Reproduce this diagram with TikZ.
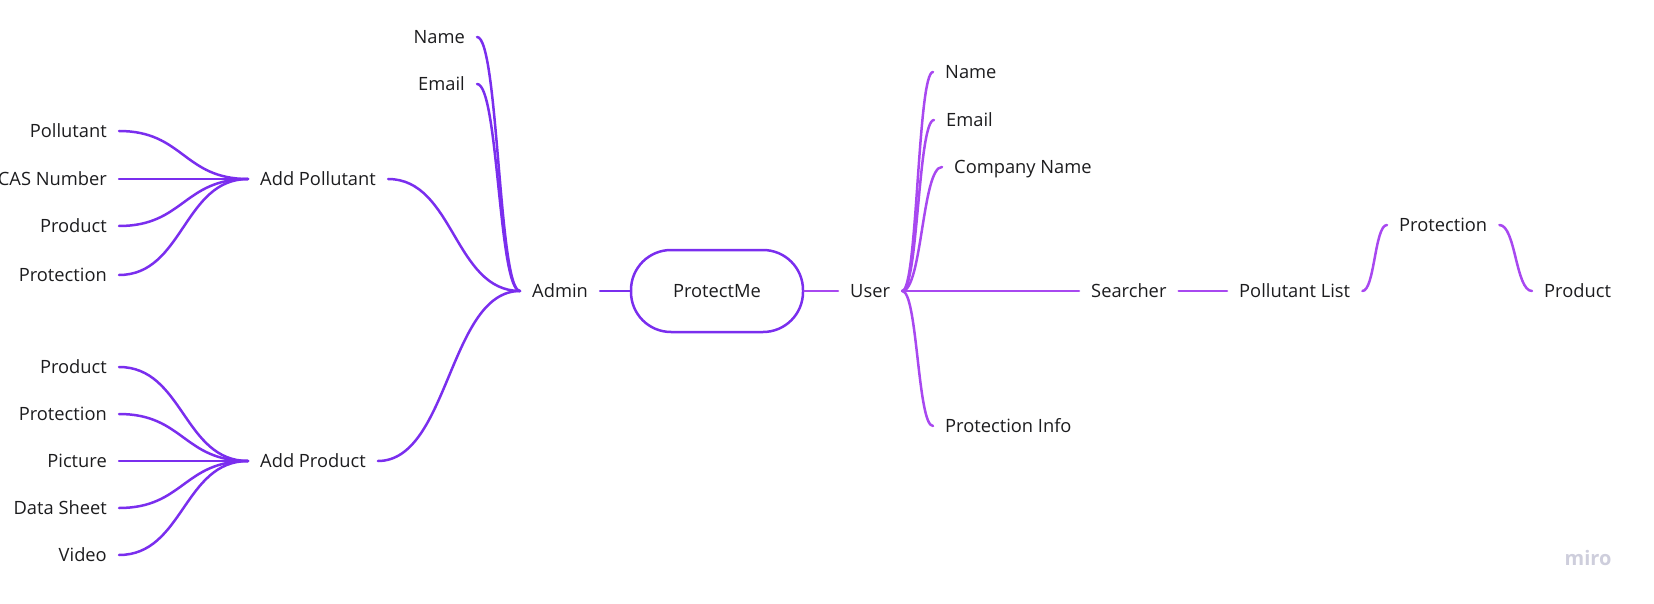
\documentclass[tikz,border=0pt]{standalone}
\usepackage{fontspec}
\setmainfont{Open Sans}
\usetikzlibrary{calc}
\definecolor{adminviolet}{RGB}{122,46,238}
\definecolor{userviolet}{RGB}{168,72,240}
\definecolor{inkgray}{RGB}{28,28,30}
\definecolor{mirogray}{RGB}{206,206,220}
\tikzset{
  topic/.style={inner xsep=12pt, inner ysep=0pt, text height=13pt, text depth=0pt,
    font=\fontsize{18.3}{21}\selectfont, text=inkgray},
  branch/.style={line width=2.5pt, line cap=round,
    to path={let \p1=(\tikztostart), \p2=(\tikztotarget), \n1={0.5*(\x1+\x2)} in
      .. controls (\n1,\y1) and (\n1,\y2) .. (\tikztotarget)}},
}
\begin{document}
\begin{tikzpicture}[x=1pt,y=-1pt]
  \useasboundingbox (0,0) rectangle (1654,604);
  % Root
  \node[topic, draw=adminviolet, line width=2.5pt, rounded corners=40pt,
    minimum width=172pt, minimum height=82pt] (root) at (717,291) {ProtectMe};
  \node[topic, anchor=west] (admin) at (520,291) {Admin};
  \node[topic, anchor=west] (user) at (838,291) {User};
  \draw[branch, adminviolet] (admin.east) -- (root.west);
  \draw[branch, userviolet] (root.east) -- (user.west);

  % Admin branch
  \node[topic, anchor=east] (adname) at (477,37) {Name};
  \node[topic, anchor=east] (ademail) at (477,84) {Email};
  \node[topic, anchor=west] (addpoll) at (248,179) {Add Pollutant};
  \node[topic, anchor=west] (addprod) at (248,461) {Add Product};
  \foreach \t in {adname,ademail,addpoll,addprod}
    \draw[branch, adminviolet] (\t.east) to (admin.west);

  % Add Pollutant leaves
  \node[topic, anchor=east] (pollutant) at (119,131) {Pollutant};
  \node[topic, anchor=east] (casnum) at (119,179) {CAS Number};
  \node[topic, anchor=east] (pproduct) at (119,226) {Product};
  \node[topic, anchor=east] (pprotect) at (119,275) {Protection};
  \foreach \t in {pollutant,casnum,pproduct,pprotect}
    \draw[branch, adminviolet] (\t.east) to (addpoll.west);

  % Add Product leaves
  \node[topic, anchor=east] (product) at (119,367) {Product};
  \node[topic, anchor=east] (protect) at (119,414) {Protection};
  \node[topic, anchor=east] (picture) at (119,461) {Picture};
  \node[topic, anchor=east] (datasheet) at (119,508) {Data Sheet};
  \node[topic, anchor=east] (video) at (119,555) {Video};
  \foreach \t in {product,protect,picture,datasheet,video}
    \draw[branch, adminviolet] (\t.east) to (addprod.west);

  % User branch
  \node[topic, anchor=west] (uname) at (933,72) {Name};
  \node[topic, anchor=west] (uemail) at (934,120) {Email};
  \node[topic, anchor=west] (ucompany) at (942,167) {Company Name};
  \node[topic, anchor=west] (uinfo) at (933,426) {Protection Info};
  \node[topic, anchor=west] (searcher) at (1079,291) {Searcher};
  \foreach \t in {uname,uemail,ucompany,uinfo,searcher}
    \draw[branch, userviolet] (user.east) to (\t.west);

  % Searcher chain
  \node[topic, anchor=west] (plist) at (1227,291) {Pollutant List};
  \node[topic, anchor=west] (sprotect) at (1387,225) {Protection};
  \node[topic, anchor=west] (sproduct) at (1532,291) {Product};
  \draw[branch, userviolet] (searcher.east) to (plist.west);
  \draw[branch, userviolet] (plist.east) to (sprotect.west);
  \draw[branch, userviolet] (sprotect.east) to (sproduct.west);

  \node[font=\fontsize{20}{22}\selectfont\bfseries, text=mirogray] (watermark) at (1588,558) {miro};
\end{tikzpicture}
\end{document}
